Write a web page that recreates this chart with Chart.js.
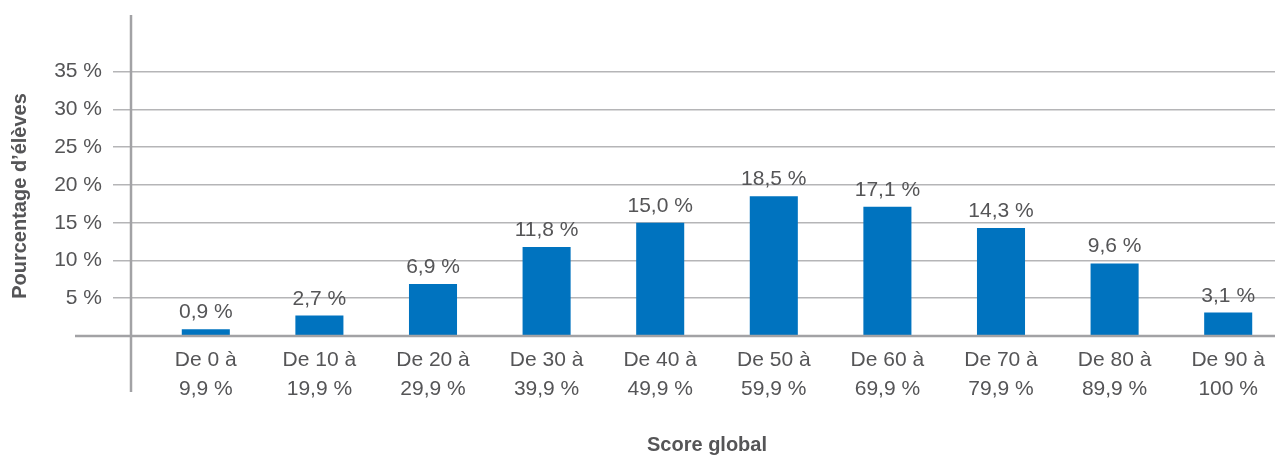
<!DOCTYPE html>
<html>
<head>
<meta charset="utf-8">
<script src="https://cdn.jsdelivr.net/npm/chart.js@4"></script>
<style>
  html, body { margin: 0; padding: 0; background: #ffffff; }
  #wrap { width: 1275px; height: 455px; overflow: hidden; }
  #box { width: 1285px; height: 455px; }
</style>
</head>
<body>
<div id="wrap"><div id="box"><canvas id="mycanvas"></canvas></div></div>
<script>
// Data
var categories = [
    ['De 0 à', '9,9 %'],
    ['De 10 à', '19,9 %'],
    ['De 20 à', '29,9 %'],
    ['De 30 à', '39,9 %'],
    ['De 40 à', '49,9 %'],
    ['De 50 à', '59,9 %'],
    ['De 60 à', '69,9 %'],
    ['De 70 à', '79,9 %'],
    ['De 80 à', '89,9 %'],
    ['De 90 à', '100 %']
];
var pourcentages = [0.9, 2.7, 6.9, 11.8, 15.0, 18.5, 17.1, 14.3, 9.6, 3.1];
var yTicks = [5, 10, 15, 20, 25, 30, 35];
var yTitle = 'Pourcentage d’élèves';
var xTitle = 'Score global';

var textColor = '#555557';
var axisColor = '#a2a2a5';
var gridColor = '#b5b5b7';
var barColor = '#0073bf';
var fontFamily = '"Liberation Sans", Arial, sans-serif';

function fmt(v) {
    return v.toFixed(1).replace('.', ',') + ' %';
}

// axis cross, value labels and titles
var extras = {
    id: 'extras',
    afterDatasetsDraw: function (chart) {
        var ctx = chart.ctx;
        var area = chart.chartArea;
        var y0 = chart.scales.y.getPixelForValue(0);
        ctx.save();
        ctx.strokeStyle = axisColor;
        ctx.lineWidth = 2.5;
        ctx.beginPath();
        ctx.moveTo(area.left - 74, y0);
        ctx.lineTo(area.right, y0);
        ctx.moveTo(area.left - 18, area.top);
        ctx.lineTo(area.left - 18, y0 + 56);
        ctx.stroke();

        ctx.fillStyle = textColor;
        ctx.font = '21px ' + fontFamily;
        ctx.textAlign = 'center';
        ctx.textBaseline = 'alphabetic';
        var meta = chart.getDatasetMeta(0);
        meta.data.forEach(function (bar, i) {
            ctx.fillText(fmt(pourcentages[i]), bar.x, bar.y - 11);
        });

        ctx.font = 'bold 20px ' + fontFamily;
        ctx.textBaseline = 'middle';
        ctx.fillText(xTitle, 707, 445);
        ctx.translate(20, 196);
        ctx.rotate(-Math.PI / 2);
        ctx.fillText(yTitle, 0, 0);
        ctx.restore();
    }
};

var ctx = document.getElementById('mycanvas').getContext('2d');
var myChart = new Chart(ctx, {
    type: 'bar',
    data: {
        labels: categories,
        datasets: [{
            data: pourcentages,
            backgroundColor: barColor,
            borderWidth: 0,
            categoryPercentage: 0.423,
            barPercentage: 1
        }]
    },
    options: {
        responsive: true,
        maintainAspectRatio: false,
        animation: false,
        layout: { padding: { top: 15, right: 0, bottom: 0, left: 0 } },
        plugins: {
            legend: { display: false },
            tooltip: { enabled: false }
        },
        scales: {
            x: {
                border: { display: false },
                grid: { display: false, drawTicks: false },
                ticks: {
                    color: textColor,
                    padding: 10,
                    maxRotation: 0,
                    autoSkip: false,
                    font: { family: fontFamily, size: 21, lineHeight: 1.38 }
                },
                afterFit: function (scale) {
                    scale.height = 119;
                    scale.paddingLeft = 0;
                    scale.paddingRight = 0;
                }
            },
            y: {
                min: 0,
                max: 42.5,
                border: { display: false },
                grid: { color: gridColor, lineWidth: 1.5, tickLength: 36, drawTicks: true },
                ticks: {
                    color: textColor,
                    padding: 11,
                    font: { family: fontFamily, size: 21 },
                    callback: function (v) { return v + ' %'; }
                },
                afterBuildTicks: function (scale) {
                    scale.ticks = yTicks.map(function (v) { return { value: v }; });
                },
                afterFit: function (scale) {
                    scale.width = 149;
                    scale.paddingTop = 0;
                    scale.paddingBottom = 0;
                }
            }
        }
    },
    plugins: [extras]
});
</script>
</body>
</html>
